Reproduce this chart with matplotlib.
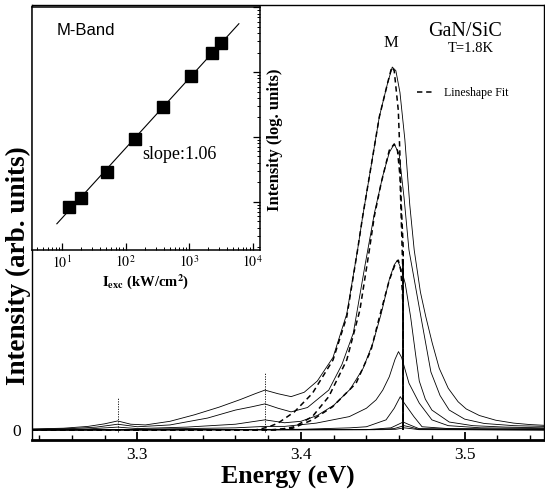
import numpy as np
import matplotlib
matplotlib.use('Agg')
from matplotlib import pyplot as plt
from matplotlib.ticker import MultipleLocator, FixedLocator, LogLocator, NullFormatter, FuncFormatter

plt.rcParams['font.family'] = ['Liberation Serif', 'DejaVu Serif']
plt.rcParams['mathtext.fontset'] = 'stix'

# --- PL spectra (solid), energy in eV, intensity normalised to top peak ---
E1 = [3.236, 3.255, 3.270, 3.280, 3.288, 3.296, 3.305, 3.320, 3.335, 3.350, 3.363, 3.372,
      3.378, 3.386, 3.394, 3.402, 3.410, 3.4196, 3.428, 3.4346, 3.4377, 3.4428, 3.4479,
      3.4529, 3.4558, 3.458, 3.4605, 3.4635, 3.4665, 3.4692, 3.473, 3.4763, 3.4802,
      3.4845, 3.490, 3.496, 3.501, 3.509, 3.519, 3.530, 3.540, 3.5485]
I1 = [0.003, 0.005, 0.010, 0.017, 0.025, 0.016, 0.014, 0.024, 0.042, 0.063, 0.084, 0.100,
      0.110, 0.100, 0.092, 0.104, 0.135, 0.200, 0.320, 0.496, 0.588, 0.725, 0.863,
      0.955, 1.000, 0.990, 0.930, 0.800, 0.620, 0.496, 0.380, 0.312, 0.240,
      0.170, 0.115, 0.078, 0.058, 0.040, 0.027, 0.019, 0.015, 0.013]

E2 = [3.236, 3.260, 3.275, 3.288, 3.300, 3.320, 3.343, 3.360, 3.370, 3.378, 3.386, 3.394,
      3.404, 3.417, 3.425, 3.432, 3.439, 3.445, 3.450, 3.454, 3.457, 3.460, 3.463, 3.466,
      3.4733, 3.4794, 3.485, 3.4906, 3.500, 3.512, 3.530, 3.5485]
I2 = [0.002, 0.004, 0.008, 0.016, 0.009, 0.014, 0.033, 0.055, 0.064, 0.072, 0.060, 0.050,
      0.062, 0.110, 0.180, 0.267, 0.450, 0.600, 0.700, 0.765, 0.788, 0.760, 0.640, 0.496,
      0.312, 0.160, 0.095, 0.055, 0.030, 0.018, 0.012, 0.010]

E3 = [3.236, 3.270, 3.288, 3.300, 3.330, 3.360, 3.378, 3.390, 3.400, 3.410, 3.420, 3.430,
      3.438, 3.444, 3.449, 3.454, 3.457, 3.459, 3.4615, 3.4637, 3.467, 3.470, 3.4723,
      3.476, 3.480, 3.4906, 3.505, 3.525, 3.5485]
I3 = [0.001, 0.003, 0.008, 0.004, 0.008, 0.016, 0.028, 0.020, 0.024, 0.040, 0.068, 0.112,
      0.170, 0.240, 0.320, 0.415, 0.455, 0.468, 0.440, 0.404, 0.312, 0.210, 0.135,
      0.085, 0.055, 0.022, 0.012, 0.008, 0.006]

E4 = [3.236, 3.300, 3.360, 3.378, 3.390, 3.4093, 3.4296, 3.440, 3.4459, 3.450, 3.454,
      3.4575, 3.4596, 3.4615, 3.466, 3.4723, 3.480, 3.490, 3.510, 3.5485]
I4 = [0.000, 0.002, 0.006, 0.010, 0.010, 0.019, 0.037, 0.060, 0.083, 0.110, 0.147,
      0.195, 0.216, 0.200, 0.129, 0.074, 0.028, 0.012, 0.006, 0.004]

E5 = [3.236, 3.400, 3.430, 3.440, 3.452, 3.457, 3.4607, 3.463, 3.469, 3.474, 3.490, 3.5485]
I5 = [0.000, 0.002, 0.006, 0.009, 0.028, 0.060, 0.092, 0.075, 0.037, 0.009, 0.004, 0.002]

E6 = [3.236, 3.440, 3.455, 3.4625, 3.466, 3.472, 3.5485]
I6 = [0.000, 0.001, 0.006, 0.022, 0.015, 0.004, 0.001]

E7 = [3.236, 3.445, 3.457, 3.463, 3.467, 3.472, 3.5485]
I7 = [0.000, 0.001, 0.004, 0.012, 0.008, 0.002, 0.000]

E8 = [3.236, 3.450, 3.458, 3.463, 3.467, 3.472, 3.5485]
I8 = [0.000, 0.001, 0.002, 0.006, 0.004, 0.001, 0.000]

# --- lineshape fits (dashed) ---
F1_E = [3.236, 3.372, 3.380, 3.386, 3.396, 3.407, 3.4196, 3.428, 3.4346, 3.4377, 3.4428,
        3.4479, 3.4529, 3.4555, 3.457, 3.4595, 3.4604, 3.4613, 3.4625, 3.4625]
F1_I = [0.000, 0.000, 0.008, 0.019, 0.050, 0.101, 0.193, 0.312, 0.496, 0.588, 0.725,
        0.863, 0.955, 1.000, 0.990, 0.880, 0.770, 0.620, 0.500, 0.000]

F2_E = [3.236, 3.385, 3.396, 3.407, 3.417, 3.428, 3.436, 3.4418, 3.4448, 3.449, 3.454,
        3.457, 3.459, 3.4605, 3.4615, 3.4625, 3.4625]
F2_I = [0.000, 0.000, 0.009, 0.037, 0.092, 0.193, 0.330, 0.496, 0.588, 0.680, 0.771,
        0.788, 0.770, 0.700, 0.550, 0.400, 0.000]

F3_E = [3.236, 3.380, 3.395, 3.407, 3.4193, 3.4337, 3.4428, 3.448, 3.454, 3.458, 3.4595,
        3.461, 3.462, 3.4625, 3.4625]
F3_I = [0.000, 0.000, 0.005, 0.028, 0.064, 0.129, 0.220, 0.312, 0.413, 0.462, 0.468,
        0.440, 0.380, 0.300, 0.000]

edge_E = 3.4625
edge_top = 0.47
replica_E = [3.288, 3.378]
replica_top = [0.092, 0.160]

# --- inset: M-band intensity vs excitation density ---
I_exc = [12.9, 19.9, 51, 141, 390, 1070, 2300, 3170]
I_M = [8.3, 11.5, 28.8, 93, 290, 873, 1977, 2825]
fit_range = [8.3, 6100]

spectra = [(E1, I1), (E2, I2), (E3, I3), (E4, I4), (E5, I5), (E6, I6), (E7, I7), (E8, I8)]
fits = [(F1_E, F1_I), (F2_E, F2_I), (F3_E, F3_I)]

fig = plt.figure(figsize=(5.45, 4.95), dpi=100)
ax = fig.add_axes([32/545, 55/495, 512/545, 435/495])

for E, I in spectra:
    ax.plot(E, I, color='k', lw=0.6)
dash = (0, (3.5, 2.5))
lines = []
for E, I in fits:
    lines += ax.plot(E, I, color='k', lw=1.1, ls=dash)
ax.vlines(edge_E, 0, edge_top, color='k', lw=1.3)
ax.vlines(replica_E, -0.005, replica_top, color='k', lw=0.6, ls=(0, (1.5, 1.5)))

ax.set_xlim(3.2357, 3.5485)
ax.set_ylim(-0.0275, 1.171)
ax.xaxis.set_major_locator(FixedLocator([3.3, 3.4, 3.5]))
ax.xaxis.set_minor_locator(MultipleLocator(0.02))
ax.set_yticks([0])
ax.tick_params(axis='x', which='major', direction='in', length=6, width=1.3, labelsize=12.5, pad=5)
ax.tick_params(axis='x', which='minor', direction='in', length=3.5, width=1.0)
ax.tick_params(axis='y', direction='in', length=0, labelsize=12.5, pad=8)
for s in ax.spines.values():
    s.set_linewidth(1.0)
ax.spines['bottom'].set_linewidth(2.0)

ax.set_xlabel('Energy (eV)', fontsize=18.5, fontweight='bold', labelpad=2)
ax.set_ylabel('Intensity (arb. units)', fontsize=19.5, fontweight='bold')
ax.yaxis.set_label_coords(-0.001, 0.40)

ax.text(3.4552, 1.066, 'M', fontsize=12, ha='center', va='center')
ax.text(3.5003, 1.098, 'GaN/SiC', fontsize=14.5, ha='center', va='center')
ax.text(3.504, 1.050, 'T=1.8K', fontsize=10.5, ha='center', va='center')
ax.legend([lines[0]], ['Lineshape Fit'], loc='center left', bbox_to_anchor=(0.752, 0.798),
          frameon=False, fontsize=8.5, handlelength=1.4, handletextpad=0.9,
          borderpad=0, borderaxespad=0)

# inset
axi = fig.add_axes([32/545, 245/495, 228/545, 243/495])
axi.set_facecolor('white')
axi.set_xscale('log')
axi.set_yscale('log')
axi.plot(I_exc, I_M, 's', ms=8.5, color='k')
p = np.polyfit(np.log10(I_exc), np.log10(I_M), 1)
xs = np.array(fit_range)
axi.plot(xs, 10**np.polyval(p, np.log10(xs)), color='k', lw=0.8)
axi.set_xlim(3.37, 13120)
axi.set_ylim(1.80, 10140)
axi.xaxis.set_major_locator(LogLocator(base=10, numticks=10))
axi.xaxis.set_minor_locator(LogLocator(base=10, subs=np.arange(2, 10), numticks=10))
axi.xaxis.set_major_formatter(FuncFormatter(lambda v, pos: r'$10^{%d}$' % round(np.log10(v))))
axi.xaxis.set_minor_formatter(NullFormatter())
axi.yaxis.tick_right()
axi.yaxis.set_major_locator(LogLocator(base=10, numticks=10))
axi.yaxis.set_minor_locator(LogLocator(base=10, subs=np.arange(2, 10), numticks=10))
axi.yaxis.set_major_formatter(NullFormatter())
axi.yaxis.set_minor_formatter(NullFormatter())
axi.tick_params(axis='x', which='major', direction='in', length=5, width=0.9, labelsize=10, pad=3)
axi.tick_params(axis='x', which='minor', direction='in', length=2.5, width=0.7)
axi.tick_params(axis='y', which='major', direction='in', length=5, width=0.9, left=False, right=True)
axi.tick_params(axis='y', which='minor', direction='in', length=2.5, width=0.7, left=False, right=True)
for s in axi.spines.values():
    s.set_linewidth(1.1)

axi.set_xlabel(r'$\mathbf{I_{exc}}$ (kW/cm$^{\mathbf{2}}$)', fontsize=10.5, fontweight='bold', labelpad=1)
axi.yaxis.set_label_position('right')
axi.set_ylabel('Intensity (log. units)', fontsize=12, fontweight='bold')
axi.yaxis.set_label_coords(1.03, 0.453)
axi.text(0.11, 0.905, 'M-Band', transform=axi.transAxes, fontsize=12,
         family=['Liberation Sans', 'DejaVu Sans'], va='center')
axi.text(0.482, 0.391, 'slope:1.06', transform=axi.transAxes, fontsize=13, va='center')

fig.savefig('out.png', dpi=100)
